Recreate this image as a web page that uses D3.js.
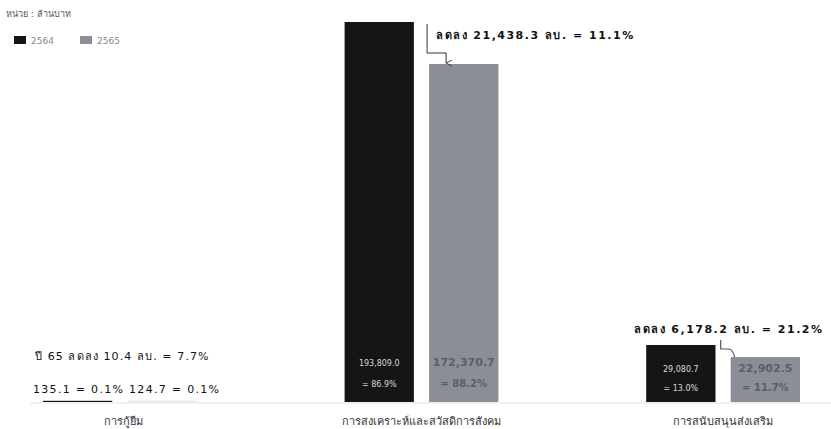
<!DOCTYPE html>
<html>
<head>
<meta charset="utf-8">
<script src="https://cdn.jsdelivr.net/npm/d3@7"></script>
<style>
  body { margin: 0; background: #fff; }
  text { font-family: "DejaVu Sans", "Noto Sans", sans-serif; }
</style>
</head>
<body>
<svg width="831" height="429"></svg>
<script>
// data (ล้านบาท)
const categories = ["การกู้ยืม", "การสงเคราะห์และสวัสดิการสังคม", "การสนับสนุนส่งเสริม"];
const years = ["2564", "2565"];
const values2564 = [135.1, 193809.0, 29080.7];
const values2565 = [124.7, 172370.7, 22902.5];
const share2564 = ["0.1%", "86.9%", "13.0%"];
const share2565 = ["0.1%", "88.2%", "11.7%"];
const fmt = d3.format(",.1f");

let colors = { "2564": "#151515", "2565": "#8b8e97" };
let svg = d3.select("svg");

let rows = [];
categories.forEach((c, i) => {
    rows.push({ cat: c, year: "2564", v: values2564[i], share: share2564[i] });
    rows.push({ cat: c, year: "2565", v: values2565[i], share: share2565[i] });
});

const baseY = 402;
let x0 = d3.scaleBand().domain(categories).range([43, 800]).paddingInner(0.49).paddingOuter(0);
let x1 = d3.scaleBand().domain(years).range([0, x0.bandwidth()]).paddingInner(0.18);
let y = d3.scaleLinear().domain([0, d3.max(values2564)]).range([baseY, 22]);

// faint base line
svg.append("line")
    .attr("x1", 30).attr("x2", 831)
    .attr("y1", baseY + 1).attr("y2", baseY + 1)
    .attr("stroke", "#ececec").attr("stroke-width", 1.5);

// bars (tiny ones get a hairline so they show)
svg.selectAll(".bar")
    .data(rows)
    .enter()
    .append("rect")
    .attr("class", "bar")
    .attr("x", d => x0(d.cat) + x1(d.year))
    .attr("y", d => Math.min(y(d.v), baseY - 1.2))
    .attr("width", x1.bandwidth())
    .attr("height", d => Math.max(baseY - y(d.v), 1.2))
    .attr("fill", d => colors[d.year])
    .attr("opacity", d => (d.v < 1000 && d.year == "2565") ? 0.25 : 1);

// value labels inside the big bars
let inside = rows.filter(d => d.cat != categories[0]);
svg.selectAll(".val")
    .data(inside)
    .enter()
    .append("text")
    .attr("x", d => x0(d.cat) + x1(d.year) + x1.bandwidth() / 2)
    .attr("y", d => d.cat == categories[1] ? 366 : 372)
    .attr("text-anchor", "middle")
    .attr("font-size", d => d.year == "2564" ? "8px" : "11px")
    .attr("font-weight", d => d.year == "2564" ? "normal" : "bold")
    .attr("fill", d => d.year == "2564" ? "#d8d8d8" : "#5b5e68")
    .text(d => fmt(d.v));

svg.selectAll(".pct")
    .data(inside)
    .enter()
    .append("text")
    .attr("x", d => x0(d.cat) + x1(d.year) + x1.bandwidth() / 2)
    .attr("y", d => d.cat == categories[1] ? 387 : 391)
    .attr("text-anchor", "middle")
    .attr("font-size", d => d.year == "2564" ? "8px" : "10px")
    .attr("font-weight", d => d.year == "2564" ? "normal" : "bold")
    .attr("fill", d => d.year == "2564" ? "#d8d8d8" : "#5b5e68")
    .text(d => "= " + d.share);

// category labels
svg.selectAll(".cat")
    .data(categories)
    .enter()
    .append("text")
    .attr("x", d => x0(d) + x0.bandwidth() / 2 + (d == categories[0] ? 4 : 0))
    .attr("y", 425)
    .attr("text-anchor", "middle")
    .attr("font-size", "11px")
    .attr("fill", "#333")
    .text(d => d);

// unit + legend
svg.append("text")
    .attr("x", 6).attr("y", 17)
    .attr("font-size", "9px")
    .attr("fill", "#555")
    .text("หน่วย : ล้านบาท");

let legend = svg.selectAll(".leg")
    .data(years)
    .enter()
    .append("g")
    .attr("transform", (d, i) => `translate(${14 + i * 66}, 36)`);
legend.append("rect")
    .attr("width", 12).attr("height", 8)
    .attr("fill", d => colors[d]);
legend.append("text")
    .attr("x", 17).attr("y", 8)
    .attr("font-size", "9px")
    .attr("fill", "#888")
    .text(d => d);

// annotations
let annoStyle = t => t
    .attr("font-size", "11px")
    .attr("font-weight", "bold")
    .attr("fill", "#111")
    .attr("letter-spacing", "1.5px");

let drop1 = values2564[1] - values2565[1];
let drop2 = values2564[2] - values2565[2];
let drop0 = values2564[0] - values2565[0];

svg.append("text")
    .attr("x", 436).attr("y", 39)
    .call(annoStyle)
    .text(`ลดลง ${fmt(drop1)} ลบ. = ${(drop1 / values2564[1] * 100).toFixed(1)}%`);

svg.append("text")
    .attr("x", 634).attr("y", 333)
    .call(annoStyle)
    .text(`ลดลง ${fmt(drop2)} ลบ. = ${(drop2 / values2564[2] * 100).toFixed(1)}%`);

svg.append("text")
    .attr("x", 35).attr("y", 360)
    .call(annoStyle)
    .attr("font-weight", "normal")
    .attr("letter-spacing", "1.1px")
    .text(`ปี 65 ลดลง ${fmt(drop0)} ลบ. = ${(drop0 / values2564[0] * 100).toFixed(1)}%`);

svg.append("text")
    .attr("x", 33).attr("y", 393)
    .call(annoStyle)
    .attr("font-weight", "normal")
    .attr("letter-spacing", "1.3px")
    .text(`${fmt(values2564[0])} = ${share2564[0]}  ${fmt(values2565[0])} = ${share2565[0]}`);

// arrow connectors
svg.append("defs").append("marker")
    .attr("id", "arr")
    .attr("viewBox", "0 0 10 10")
    .attr("refX", 5).attr("refY", 10)
    .attr("markerWidth", 6).attr("markerHeight", 6)
    .attr("orient", "auto-start-reverse")
    .append("path")
    .attr("d", "M0,0 L5,10 L10,0")
    .attr("fill", "none")
    .attr("stroke", "#333")
    .attr("stroke-width", 1.5);

let gx = x0(categories[1]) + x1("2565");
svg.append("path")
    .attr("d", `M${gx - 2},24 V53 H${gx + 17} V${y(values2565[1]) - 1}`)
    .attr("fill", "none")
    .attr("stroke", "#333")
    .attr("stroke-width", 1)
    .attr("marker-end", "url(#arr)");

let sx = x0(categories[2]) + x1("2565");
svg.append("path")
    .attr("d", `M${sx - 10},340 V349 H${sx - 2} Q${sx + 2},349 ${sx + 4},${y(values2565[2])}`)
    .attr("fill", "none")
    .attr("stroke", "#555")
    .attr("stroke-width", 1.2);
</script>
</body>
</html>
